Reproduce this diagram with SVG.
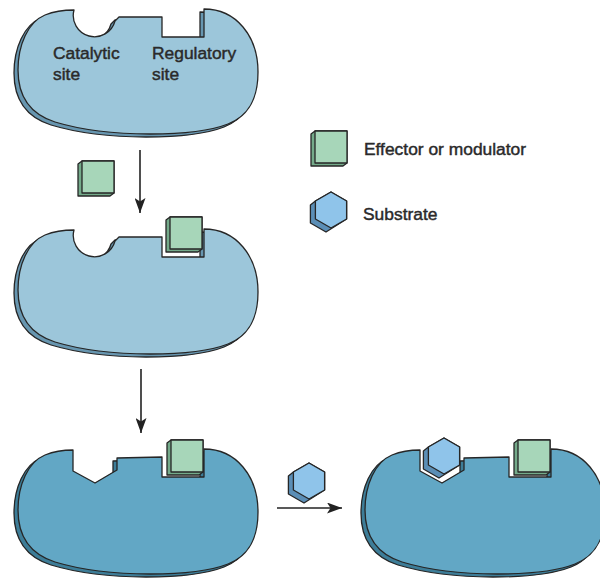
<svg xmlns="http://www.w3.org/2000/svg" width="600" height="580" viewBox="0 0 600 580">
  <style>
    .ol{stroke:#262626;stroke-width:1.3;stroke-linejoin:round}
    .e-lt{fill:#9cc6da}
    .e-lt-sh{fill:#6796b0}
    .e-dk{fill:#62a7c5}
    .e-dk-sh{fill:#3d7d98}
    .lbl{font-family:"Liberation Sans",Arial,Helvetica,sans-serif;font-size:17.4px;fill:#2a2a2a;stroke:#2a2a2a;stroke-width:0.45}
    .arr{stroke:#222;stroke-width:1.6;fill:none}
  </style>
  <defs>
    <!-- enzyme body with rounded catalytic pocket and square regulatory pocket -->
    <path id="enzA" d="M74,10 A21,21 0 0 0 115,21 L119,17 L162,17 L162,37 L204,37 L204,9 C236,9 258,36 258,72 C258,100 248,116 228,124 C205,133 175,134 150,134 C120,134 85,131 55,122 C30,114 18,96 18,70 C18,45 28,22 45,15 C55,11 64,10 74,10 Z"/>
    <!-- enzyme body with angular (active) catalytic pocket -->
    <path id="enzB" d="M73,10 L73,31 L95,43 L117,30 L117,18 L162,17 L162,37 L204,37 L204,9 C236,9 258,36 258,72 C258,100 248,116 228,124 C205,133 175,134 150,134 C120,134 85,131 55,122 C30,114 18,96 18,70 C18,45 28,22 45,15 C55,11 64,10 73,10 Z"/>
    <!-- effector cube: extruded side + front face -->
    <g id="cube">
      <path class="ol" fill="#74aa8a" d="M0,0 H32 V32 L28,35 H-4 V3 Z"/>
      <rect class="ol" fill="#a7d6b9" x="0" y="0" width="32" height="32"/>
    </g>
    <!-- substrate hexagon: extruded side + front face -->
    <g id="hex">
      <path class="ol" fill="#5b8eb6" d="M0,-18 L15.6,-9 L15.6,9 L-5,22 L-20.6,13 L-20.6,-5 L-15.6,-9 Z"/>
      <path class="ol" fill="#8fc4ea" d="M0,-18 L15.6,-9 L15.6,9 L0,18 L-15.6,9 L-15.6,-9 Z"/>
    </g>
    <marker id="ah" markerUnits="userSpaceOnUse" markerWidth="16" markerHeight="11" refX="15" refY="5.5" orient="auto">
      <path d="M0,0 L15,5.5 L0,11 L3.5,5.5 Z" fill="#222"/>
    </marker>
  </defs>

  <!-- inactive enzyme with site labels -->
  <g id="enzyme-inactive">
    <use href="#enzA" class="e-lt-sh ol" transform="translate(-4,3)"/>
    <use href="#enzA" class="e-lt ol"/>
    <text class="lbl" x="53" y="59">Catalytic</text>
    <text class="lbl" x="53" y="80">site</text>
    <text class="lbl" x="152" y="59">Regulatory</text>
    <text class="lbl" x="152" y="80">site</text>
  </g>

  <!-- free effector -->
  <g id="effector-free">
    <use href="#cube" x="82" y="161"/>
  </g>

  <!-- enzyme with bound effector -->
  <g id="enzyme-effector-bound">
    <use href="#enzA" class="e-lt-sh ol" transform="translate(-4,223)"/>
    <use href="#enzA" class="e-lt ol" transform="translate(0,220)"/>
    <use href="#cube" x="170" y="217"/>
  </g>

  <!-- activated enzyme -->
  <g id="enzyme-active">
    <use href="#enzB" class="e-dk-sh ol" transform="translate(-4,443)"/>
    <use href="#enzB" class="e-dk ol" transform="translate(0,440)"/>
    <use href="#cube" x="171" y="440"/>
  </g>

  <!-- free substrate -->
  <g id="substrate-free">
    <use href="#hex" x="309" y="481"/>
  </g>

  <!-- activated enzyme with substrate bound -->
  <g id="enzyme-substrate-bound">
    <use href="#enzB" class="e-dk-sh ol" transform="translate(343,443)"/>
    <use href="#enzB" class="e-dk ol" transform="translate(347,440)"/>
    <use href="#hex" x="444" y="456"/>
    <use href="#cube" x="518" y="440"/>
  </g>

  <!-- legend -->
  <g id="legend-effector">
    <use href="#cube" x="315" y="131"/>
    <text class="lbl" x="364" y="155">Effector or modulator</text>
  </g>
  <g id="legend-substrate">
    <use href="#hex" x="331" y="210"/>
    <text class="lbl" x="363" y="220">Substrate</text>
  </g>

  <!-- connectors -->
  <g id="connectors">
    <line class="arr" x1="140" y1="150" x2="140" y2="213" marker-end="url(#ah)"/>
    <line class="arr" x1="141" y1="369" x2="141" y2="433" marker-end="url(#ah)"/>
    <line class="arr" x1="277" y1="508" x2="342" y2="508" marker-end="url(#ah)"/>
  </g>
</svg>
